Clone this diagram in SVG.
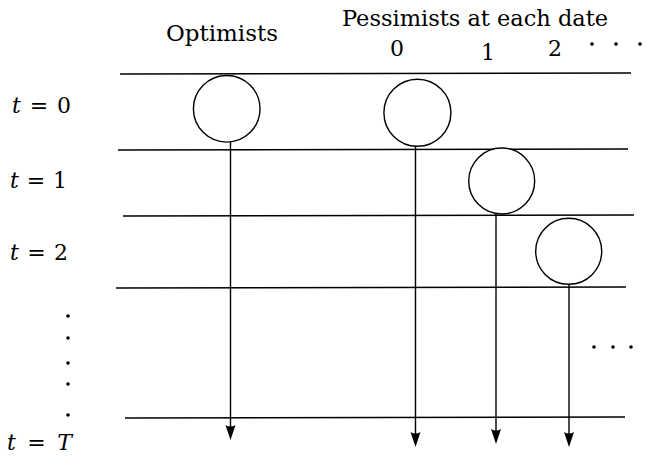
<svg xmlns="http://www.w3.org/2000/svg" width="649" height="458" viewBox="0 0 649 458">
<style>
  text { font-family: "DejaVu Serif", "Liberation Serif", serif; font-size: 22px; fill: #000; }
  .it { font-style: italic; }
  .rule { stroke: #000; stroke-width: 1.4; fill: none; }
  .node { stroke: #000; stroke-width: 1.4; fill: #fff; }
  .conn { stroke: #000; stroke-width: 1.4; fill: none; marker-end: url(#arrow); }
  .dot { fill: #000; }
</style>
<defs>
  <marker id="arrow" viewBox="-12 -7 20 14" markerWidth="20" markerHeight="14" refX="0" refY="0" markerUnits="userSpaceOnUse" orient="auto" overflow="visible">
    <path d="M6,0 L-9,-5 Q-6,0 -9,5 Z" fill="#000"/>
  </marker>
</defs>
<rect width="649" height="458" fill="#fff"/>

<g id="headers">
  <text x="166" y="41" textLength="112" lengthAdjust="spacingAndGlyphs">Optimists</text>
  <text x="342" y="26" textLength="266" lengthAdjust="spacingAndGlyphs">Pessimists at each date</text>
  <text x="397" y="56" text-anchor="middle">0</text>
  <text x="488" y="60" text-anchor="middle">1</text>
  <text x="555" y="56" text-anchor="middle">2</text>
  <circle class="dot" cx="592" cy="44" r="1.8"/>
  <circle class="dot" cx="616" cy="44" r="1.8"/>
  <circle class="dot" cx="640" cy="44" r="1.8"/>
</g>

<g id="time-labels">
  <text x="12" y="113" textLength="59" lengthAdjust="spacing"><tspan class="it">t</tspan> = 0</text>
  <text x="10" y="188" textLength="57" lengthAdjust="spacing"><tspan class="it">t</tspan> = 1</text>
  <text x="10" y="260" textLength="58" lengthAdjust="spacing"><tspan class="it">t</tspan> = 2</text>
  <text x="7" y="450" textLength="65" lengthAdjust="spacing"><tspan class="it">t</tspan> = <tspan class="it">T</tspan></text>
  <circle class="dot" cx="68" cy="316" r="1.8"/>
  <circle class="dot" cx="68" cy="338" r="1.8"/>
  <circle class="dot" cx="68" cy="363" r="1.8"/>
  <circle class="dot" cx="68" cy="384" r="1.8"/>
  <circle class="dot" cx="68" cy="415" r="1.8"/>
</g>

<g id="rules">
  <line class="rule" x1="120" y1="74" x2="631" y2="73"/>
  <line class="rule" x1="118" y1="150" x2="628" y2="149"/>
  <line class="rule" x1="123" y1="216" x2="634" y2="215"/>
  <line class="rule" x1="116" y1="288" x2="626" y2="287"/>
  <line class="rule" x1="125" y1="418" x2="625" y2="417"/>
</g>

<g id="trailing-dots">
  <circle class="dot" cx="594" cy="347" r="1.8"/>
  <circle class="dot" cx="613" cy="347" r="1.8"/>
  <circle class="dot" cx="631" cy="347" r="1.8"/>
</g>

<g id="connectors">
  <line class="conn" x1="230.5" y1="142" x2="230.5" y2="434"/>
  <line class="conn" x1="415.5" y1="146" x2="415.5" y2="441"/>
  <line class="conn" x1="496" y1="214" x2="496" y2="438"/>
  <line class="conn" x1="569" y1="284" x2="569" y2="441"/>
</g>

<g id="node-optimists">
  <circle class="node" cx="226.7" cy="108.8" r="33.3"/>
</g>
<g id="node-pessimists-0">
  <circle class="node" cx="417.4" cy="112.7" r="33.5"/>
</g>
<g id="node-pessimists-1">
  <circle class="node" cx="501.7" cy="181" r="33"/>
</g>
<g id="node-pessimists-2">
  <circle class="node" cx="568.7" cy="251.3" r="33"/>
</g>
</svg>
